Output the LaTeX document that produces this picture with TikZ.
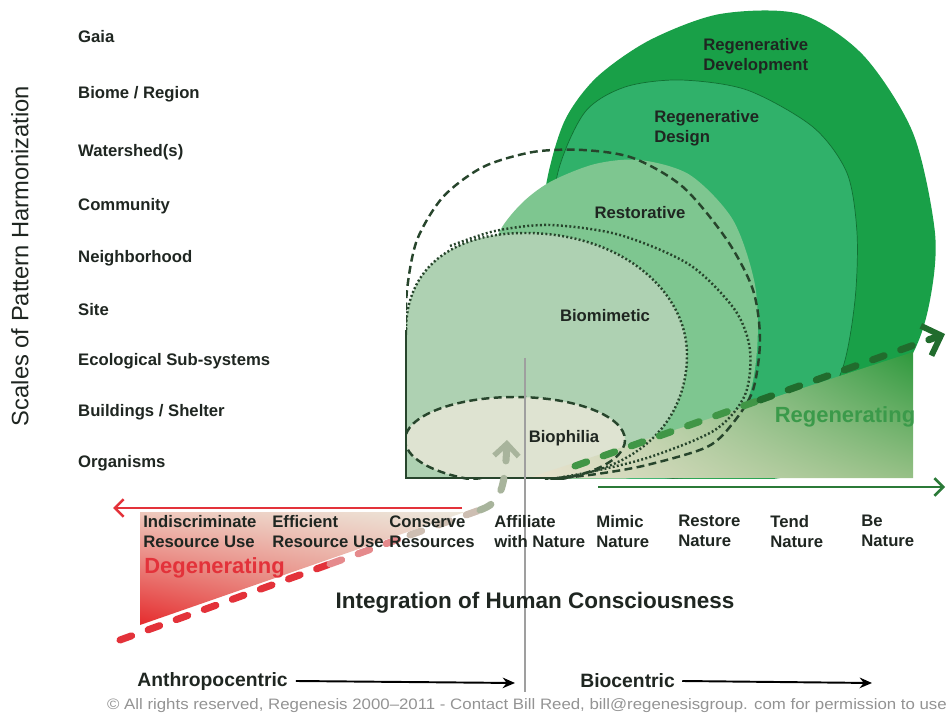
\documentclass[tikz,border=0pt]{standalone}
\usepackage{fontspec}
\setmainfont{Liberation Sans}
\usepackage{graphicx}
\usepackage{tikz}
\usetikzlibrary{calc}
\usetikzlibrary{arrows.meta}
\usetikzlibrary{shadings}

\definecolor{devgreen}{HTML}{19A048}
\definecolor{desgreen}{HTML}{30B16A}
\definecolor{resgreen}{HTML}{7EC690}
\definecolor{mimgreen}{HTML}{AED1B2}
\definecolor{philbeige}{HTML}{DEE3D1}
\definecolor{edgegreen}{HTML}{27452C}
\definecolor{regentext}{HTML}{3B9A4A}
\definecolor{degenred}{HTML}{E3323A}
\definecolor{arrowgreen}{HTML}{2B7A38}
\definecolor{inkdark}{HTML}{1F2621}
\definecolor{regUR}{HTML}{2E993D}
\definecolor{regLR}{HTML}{96C086}
\definecolor{regUL}{HTML}{E2DFC8}
\definecolor{regLL}{HTML}{EAE3D0}
\definecolor{degLL}{HTML}{E52B2D}
\definecolor{degUL}{HTML}{EEC8BC}
\definecolor{degUR}{HTML}{ECE7DB}
\definecolor{degLR}{HTML}{E8A092}
\definecolor{fadered}{HTML}{E58A8C}
\definecolor{paletrend}{HTML}{CDBEB2}
\definecolor{greytrend}{HTML}{A8B49C}
\definecolor{midtrend}{HTML}{409646}
\definecolor{darktrend}{HTML}{216C2D}

\begin{document}
\begin{tikzpicture}[x=0.02cm,y=-0.02cm,
  scalelbl/.style={anchor=west,text=inkdark,font=\fontsize{9.5}{11}\selectfont\bfseries},
  stagelbl/.style={anchor=north west,align=left,inner sep=0pt,text=inkdark,font=\fontsize{9.5}{11.4}\selectfont\bfseries},
  dashline/.style={edgegreen,line width=1.4pt,dash pattern=on 4.5pt off 2.5pt},
  dotline/.style={edgegreen,line width=1.4pt,dash pattern=on 1.1pt off 1.3pt},
  trend/.style={line width=4pt,line cap=round,dash pattern=on 7pt off 10pt}]

\useasboundingbox (0,0) rectangle (950,719);

\coordinate (boxTop) at (406,330);
\coordinate (boxCorner) at (406,478);
\coordinate (boxEnd) at (560,478);

\begin{scope}
\clip (406,0) rectangle (950,478);
\fill[devgreen] plot[smooth cycle] coordinates {(560,478) (540,380) (540,250) (547,180) (565,120) (597,77) (650,40) (720,14) (800,14) (863,55) (913,133) (935,233) (930,300) (912,355) (860,430) (780,478)};
\filldraw[fill=desgreen,draw=devgreen!70!black,line width=0.4pt] plot[smooth cycle] coordinates {(580,478) (550,380) (550,250) (558,172) (585,112) (625,87) (680,80) (747,90) (813,127) (847,173) (857,233) (855,300) (843,367) (815,420) (760,470) (680,478)};
\fill[resgreen] plot[smooth cycle] coordinates {(560,478) (492,380) (488,290) (497,237) (520,205) (550,182) (595,164) (640,160) (690,175) (733,220) (755,285) (757,350) (745,405) (700,455) (630,478)};
\fill[mimgreen] (boxCorner) -- (boxTop) .. controls (406,270) and (450,233) .. (525,233) .. controls (620,233) and (687,290) .. (687,355) .. controls (687,420) and (640,470) .. (557,478) -- cycle;
\fill[philbeige] (515,440) ellipse [x radius=110, y radius=43];
\end{scope}

\shade[upper right=regUR,lower right=regLR,upper left=regUL,lower left=regLL] (528,478) -- (913,478) -- (913,352) -- cycle;

\begin{scope}
\clip (406,0) rectangle (950,479);
\draw[dashline] plot[smooth] coordinates {(406,335) (407,290) (417,240) (443,197) (483,167) (533,152) (583,150) (633,158) (683,187) (727,240) (753,290) (760,340) (753,390) (733,423) (707,447) (647,465) (597,474) (545,480)};
\draw[dotline] plot[smooth] coordinates {(450,246) (495,231) (550,225) (620,235) (690,265) (735,310) (750,350) (745,395) (715,430) (650,457) (590,472) (545,480)};
\draw[dotline] (boxTop) .. controls (406,270) and (450,233) .. (525,233) .. controls (620,233) and (687,290) .. (687,355) .. controls (687,420) and (640,470) .. (557,478);
\draw[dashline] (515,440) ellipse [x radius=110, y radius=43];
\end{scope}
\draw[edgegreen,line width=1.6pt] (boxTop) -- (boxCorner) -- (boxEnd);

\shade[lower left=degLL,upper left=degUL,upper right=degUR,lower right=degLR] (140,512) -- (140,625) -- (465,512) -- cycle;

\coordinate (degStart) at (120,640);
\coordinate (degA) at (330,564);
\coordinate (degB) at (410,535);
\coordinate (degC) at (480,510);
\coordinate (affTip) at (507,440);
\coordinate (regStart) at (575,466);
\coordinate (regMid) at (760,400);
\coordinate (regTip) at (945,334);

\draw[trend,degenred] (degStart) -- (degA);
\draw[trend,fadered] (degA) -- (degB);
\draw[trend,paletrend] (degB) -- (degC);
\draw[trend,greytrend,-{Straight Barb[length=7pt,width=14pt,line width=3pt]}] (degC) .. controls (500,503) and (505,490) .. (affTip);
\draw[trend,midtrend] (regStart) -- (regMid);
\draw[trend,darktrend,-{Straight Barb[length=9pt,width=18pt,line width=3.4pt]}] (regMid) -- (regTip);

\coordinate (redFrom) at (462,508);
\coordinate (redTo) at (113,508);
\coordinate (greenFrom) at (598,487);
\coordinate (greenTo) at (945,487);
\draw[degenred,line width=1.5pt,-{Straight Barb[length=5pt,width=10pt]}] (redFrom) -- (redTo);
\draw[arrowgreen,line width=1.5pt,-{Straight Barb[length=5pt,width=10pt]}] (greenFrom) -- (greenTo);

\coordinate (splitTop) at (525,358);
\coordinate (splitBot) at (525,692);
\draw[gray!75,line width=0.6pt] (splitTop) -- (splitBot);

\node[rotate=90,text=inkdark,font=\fontsize{13.5}{15}\selectfont] (scalesAxis) at (20,256) {Scales of Pattern Harmonization};

\node[scalelbl] (gaia) at (72,37) {Gaia};
\node[scalelbl] (biome) at (72,94) {Biome / Region};
\node[scalelbl] (watershed) at (72,152) {Watershed(s)};
\node[scalelbl] (community) at (72,206) {Community};
\node[scalelbl] (neighborhood) at (72,258) {Neighborhood};
\node[scalelbl] (site) at (72,310) {Site};
\node[scalelbl] (ecosub) at (72,361) {Ecological Sub-systems};
\node[scalelbl] (buildings) at (72,412) {Buildings / Shelter};
\node[scalelbl] (organisms) at (72,463) {Organisms};

\node[stagelbl] (indiscriminate) at (143,515) {Indiscriminate\\Resource Use};
\node[stagelbl] (efficient) at (272,515) {Efficient\\Resource Use};
\node[stagelbl] (conserve) at (389,515) {Conserve\\Resources};
\node[stagelbl] (affiliate) at (494,515) {Affiliate\\with Nature};
\node[stagelbl] (mimic) at (596,515) {Mimic\\Nature};
\node[stagelbl] (restore) at (678,515) {Restore\\Nature};
\node[stagelbl] (tend) at (770,515) {Tend\\Nature};
\node[stagelbl] (be) at (861,515) {Be\\Nature};

\node[stagelbl] (regDev) at (703,38) {Regenerative\\Development};
\node[stagelbl] (regDes) at (654,110) {Regenerative\\Design};
\node[text=inkdark,font=\fontsize{9.5}{11}\selectfont\bfseries] (restorative) at (640,213) {Restorative};
\node[text=inkdark,font=\fontsize{9.5}{11}\selectfont\bfseries] (biomimetic) at (605,316) {Biomimetic};
\node[text=inkdark,font=\fontsize{9.5}{11}\selectfont\bfseries] (biophilia) at (564,438) {Biophilia};

\node[text=regentext,font=\fontsize{12.5}{14}\selectfont\bfseries] (regenerating) at (845,417) {Regenerating};
\node[anchor=west,inner sep=0pt,text=degenred,font=\fontsize{12.5}{14}\selectfont\bfseries] (degenerating) at (144,568) {Degenerating};

\node[text=inkdark,font=\fontsize{12.8}{15}\selectfont\bfseries] (integration) at (535,603) {Integration of Human Consciousness};

\coordinate (anthroTip) at (515,683);
\coordinate (bioTip) at (872,683);
\node[anchor=west,inner sep=0pt,text=inkdark,font=\fontsize{11}{13}\selectfont\bfseries] (anthro) at (137,681) {Anthropocentric};
\node[anchor=west,inner sep=0pt,text=inkdark,font=\fontsize{11}{13}\selectfont\bfseries] (biocentric) at (580,681) {Biocentric};
\draw[black,line width=1.1pt,-{Stealth[length=7pt,width=6pt]}] ([xshift=4.5pt]anthro.east) -- (anthroTip);
\draw[black,line width=1.1pt,-{Stealth[length=7pt,width=6pt]}] ([xshift=4pt]biocentric.east) -- (bioTip);

\node[text=gray!85,font=\fontsize{8.6}{10}\selectfont] (rights) at (527,706) {\resizebox{16.8cm}{\height}{© All rights reserved, Regenesis 2000–2011 - Contact Bill Reed, bill@regenesisgroup. com for permission to use}};

\end{tikzpicture}
\end{document}
